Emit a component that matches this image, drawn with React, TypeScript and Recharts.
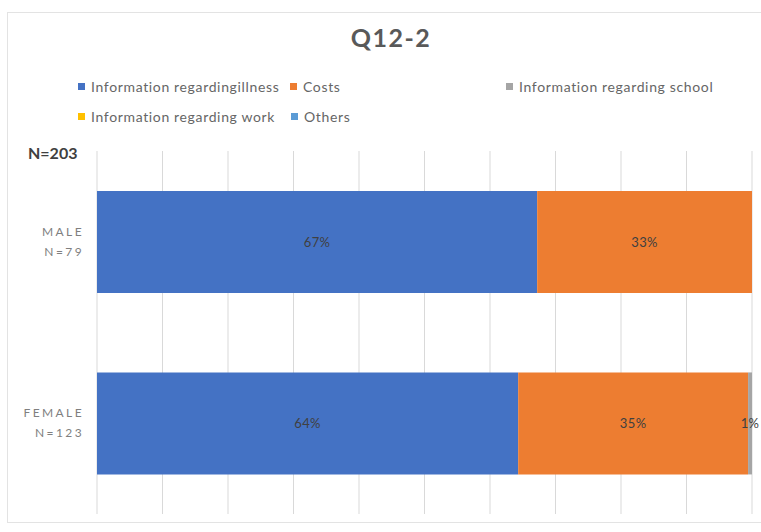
import { BarChart, Bar, XAxis, YAxis, CartesianGrid, LabelList } from 'recharts'

const categories = ['MALE|N=79', 'FEMALE|N=123']
const illness = [67.2, 64.3]
const costs = [32.8, 35.1]
const school = [0, 0.6]
const work = [0, 0]
const others = [0, 0]

const seriesNames = [
  'Information regardingillness',
  'Costs',
  'Information regarding school',
  'Information regarding work',
  'Others',
]
const seriesKeys = ['illness', 'costs', 'school', 'work', 'others']
const seriesColors = ['#4472C4', '#ED7D31', '#A5A5A5', '#FFC000', '#5B9BD5']
const xTicks = [0, 10, 20, 30, 40, 50, 60, 70, 80, 90, 100]

const data = categories.map((c, i) => ({
  cat: c,
  illness: illness[i],
  costs: costs[i],
  school: school[i],
  work: work[i],
  others: others[i],
}))

const font = 'Lato, "Open Sans", sans-serif'

// legend slots: [left, top] per series
const legendPos: [number, number][] = [
  [78, 78],
  [290, 78],
  [506, 78],
  [78, 108],
  [291, 108],
]

function CatTick(props: any) {
  const { y, payload } = props
  const [a, b] = String(payload.value).split('|')
  return (
    <text x={84} y={y} textAnchor="end" fill="#7f7f7f" fontSize={12} fontFamily={font} letterSpacing={2.4}>
      <tspan x={84} dy={-6}>{a}</tspan>
      <tspan x={84} dy={20}>{b}</tspan>
    </text>
  )
}

const fmt = (v: any) => (v > 0 ? `${Math.round(v)}%` : '')

export default function App() {
  return (
    <div style={{ position: 'absolute', left: 0, top: 0, width: 761, height: 532, background: '#fff', fontFamily: font }}>
      <div style={{
        position: 'absolute', left: 7, top: 12, width: 760, height: 511,
        border: '1px solid #e3e3e3', boxSizing: 'border-box',
      }} />
      <div style={{
        position: 'absolute', left: 0, width: 782, top: 22, textAlign: 'center',
        fontSize: 25, fontWeight: 700, color: '#595959', letterSpacing: 1.5,
      }}>Q12-2</div>
      {seriesNames.map((name, i) => (
        <div key={name} style={{
          position: 'absolute', left: legendPos[i][0], top: legendPos[i][1],
          display: 'flex', alignItems: 'center', gap: 6, fontSize: 14, color: '#666',
          whiteSpace: 'nowrap', letterSpacing: 0.65,
        }}>
          <span style={{ display: 'inline-block', width: 7, height: 7, background: seriesColors[i] }} />
          {name}
        </div>
      ))}
      <div style={{
        position: 'absolute', left: 28, top: 143, fontSize: 16, fontWeight: 700, color: '#404040',
      }}>N=203</div>
      <div style={{ position: 'absolute', left: 0, top: 0 }}>
        <BarChart
          width={761}
          height={532}
          data={data}
          layout="vertical"
          barCategoryGap="22%"
          margin={{ top: 151, right: 9, bottom: 18, left: 0 }}
        >
          <CartesianGrid horizontal={false} stroke="#d9d9d9" />
          <XAxis type="number" domain={[0, 100]} ticks={xTicks} hide />
          <YAxis type="category" dataKey="cat" width={97} axisLine={false} tickLine={false} tick={<CatTick />} />
          {seriesKeys.map((k, i) => (
            <Bar key={k} dataKey={k} stackId="a" fill={seriesColors[i]} isAnimationActive={false}>
              <LabelList dataKey={k} position="center" formatter={fmt} fill="#404040" fontSize={13} fontFamily={font} letterSpacing={0.4} />
            </Bar>
          ))}
        </BarChart>
      </div>
    </div>
  )
}
